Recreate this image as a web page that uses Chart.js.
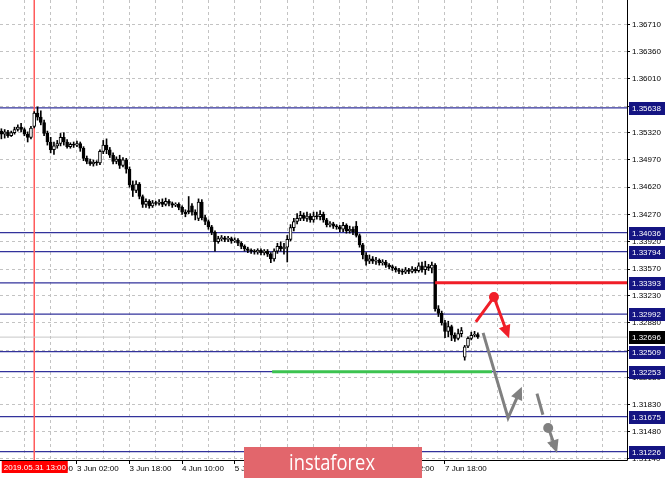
<!DOCTYPE html>
<html>
<head>
<meta charset="utf-8">
<script src="https://cdn.jsdelivr.net/npm/chart.js@4.4.0/dist/chart.umd.min.js"></script>
<style>
body { margin: 0; background: #fff; }
#wrap { width: 665px; height: 478px; position: relative; }
</style>
</head>
<body>
<div id="wrap"><canvas id="myChart"></canvas></div>
<script>
// H1 bars, hour counted from 3 Jun 00:00 (weekend skipped)
const hours = [-21,-20,-19,-18,-17,-16,-15,-14,-13,-12,-11,-10,-9,-8,-7,-6,-5,-4,-3,-2,-1,
  0,1,2,3,4,5,6,7,8,9,10,11,12,13,14,15,16,17,18,19,20,21,22,23,24,25,26,27,28,29,30,
  31,32,33,34,35,36,37,38,39,40,41,42,43,44,45,46,47,48,49,50,51,52,53,54,55,56,57,58,59,60,
  61,62,63,64,65,66,67,68,69,70,71,72,73,74,75,76,77,78,79,80,81,82,83,84,85,86,87,88,89,90,
  91,92,93,94,95,96,97,98,99,100,101,102,103,104,105,106,107,108,109,110,111,112,113,114,115,
  116,117,118,119,120,121,122,123,124];

const opens = [1.3534,1.3530,1.3533,1.3528,1.3532,1.3536,1.3539,1.3536,1.3530,1.3526,1.3540,1.3557,1.3552,1.3545,1.3531,1.3520,1.3510,1.3515,1.3518,1.3526,1.3520,
  1.3514,1.3517,1.3516,1.3518,1.3512,1.3499,1.3495,1.3492,1.3494,1.3493,1.3508,1.3516,1.3510,1.3503,1.3495,1.3498,1.3490,1.3497,1.3485,1.3465,1.3458,1.3466,1.3450,1.3440,1.3444,1.3438,1.3442,1.3441,1.3443,1.3440,1.3444,
  1.3441,1.3439,1.3440,1.3436,1.3430,1.3432,1.3438,1.3430,1.3422,1.3443,1.3423,1.3418,1.3411,1.3404,1.3392,1.3396,1.3397,1.3395,1.3396,1.3393,1.3394,1.3390,1.3386,1.3383,1.3381,1.3380,1.3379,1.3381,1.3378,1.3380,
  1.3376,1.3370,1.3380,1.3386,1.3383,1.3385,1.3395,1.3410,1.3418,1.3422,1.3426,1.3422,1.3425,1.3420,1.3425,1.3424,1.3427,1.3420,1.3414,1.3415,1.3412,1.3411,1.3408,1.3413,1.3406,1.3408,1.3412,1.3400,1.3388,1.3375,
  1.3367,1.3370,1.3367,1.3368,1.3365,1.3366,1.3362,1.3360,1.3358,1.3356,1.3354,1.3353,1.3356,1.3354,1.3357,1.3355,1.3361,1.3356,1.3360,1.3358,1.3362,1.3306,1.3300,1.3288,1.3277,
  1.3283,1.3272,1.3268,1.3274,1.3244,1.3258,1.3268,1.3272,1.3273];
const highs = [1.3537,1.3536,1.3535,1.3534,1.3539,1.3542,1.3544,1.3538,1.3533,1.3540,1.3559,1.3565,1.3560,1.3548,1.3534,1.3526,1.3520,1.3522,1.3531,1.3532,1.3523,
  1.3519,1.3520,1.3521,1.3520,1.3514,1.3502,1.3498,1.3497,1.3496,1.3510,1.3522,1.3524,1.3513,1.3506,1.3501,1.3503,1.3500,1.3499,1.3488,1.3470,1.3470,1.3468,1.3452,1.3447,1.3446,1.3445,1.3444,1.3446,1.3447,1.3448,1.3446,
  1.3443,1.3442,1.3442,1.3438,1.3433,1.3450,1.3441,1.3433,1.3447,1.3446,1.3426,1.3420,1.3413,1.3406,1.3399,1.3400,1.3399,1.3399,1.3398,1.3397,1.3396,1.3392,1.3388,1.3385,1.3383,1.3382,1.3383,1.3383,1.3382,1.3382,
  1.3378,1.3383,1.3390,1.3392,1.3390,1.3400,1.3414,1.3422,1.3428,1.3431,1.3429,1.3430,1.3428,1.3430,1.3430,1.3432,1.3430,1.3422,1.3418,1.3417,1.3414,1.3413,1.3417,1.3415,1.3412,1.3411,1.3418,1.3402,1.3390,1.3378,
  1.3375,1.3373,1.3372,1.3370,1.3369,1.3368,1.3364,1.3362,1.3360,1.3358,1.3357,1.3359,1.3358,1.3360,1.3359,1.3365,1.3366,1.3367,1.3363,1.3366,1.3364,1.3310,1.3303,1.3291,1.3290,
  1.3285,1.3275,1.3280,1.3282,1.3259,1.3270,1.3276,1.3277,1.3275];
const lows = [1.3524,1.3525,1.3526,1.3527,1.3530,1.3534,1.3533,1.3528,1.3520,1.3524,1.3538,1.3548,1.3542,1.3528,1.3516,1.3506,1.3504,1.3512,1.3515,1.3516,1.3512,
  1.3512,1.3513,1.3514,1.3508,1.3496,1.3492,1.3490,1.3489,1.3490,1.3491,1.3505,1.3505,1.3500,1.3492,1.3492,1.3486,1.3488,1.3480,1.3462,1.3450,1.3455,1.3447,1.3436,1.3436,1.3435,1.3436,1.3439,1.3439,1.3437,1.3438,1.3438,
  1.3436,1.3437,1.3433,1.3427,1.3424,1.3428,1.3426,1.3420,1.3419,1.3420,1.3414,1.3408,1.3401,1.3380,1.3390,1.3393,1.3392,1.3392,1.3390,1.3391,1.3387,1.3383,1.3380,1.3378,1.3377,1.3376,1.3376,1.3375,1.3375,1.3373,
  1.3365,1.3367,1.3377,1.3380,1.3376,1.3366,1.3393,1.3406,1.3415,1.3419,1.3419,1.3418,1.3417,1.3417,1.3421,1.3420,1.3417,1.3411,1.3411,1.3409,1.3408,1.3405,1.3405,1.3403,1.3403,1.3401,1.3398,1.3385,1.3370,1.3362,
  1.3364,1.3364,1.3363,1.3362,1.3362,1.3359,1.3357,1.3355,1.3353,1.3351,1.3350,1.3351,1.3351,1.3352,1.3352,1.3353,1.3353,1.3350,1.3355,1.3352,1.3303,1.3296,1.3285,1.3269,1.3270,
  1.3265,1.3264,1.3266,1.3270,1.3240,1.3256,1.3266,1.3270,1.3268];
const closes = [1.3530,1.3533,1.3528,1.3532,1.3536,1.3539,1.3536,1.3530,1.3526,1.3538,1.3557,1.3552,1.3545,1.3531,1.3520,1.3510,1.3515,1.3518,1.3526,1.3520,1.3514,
  1.3517,1.3516,1.3518,1.3512,1.3499,1.3495,1.3492,1.3494,1.3493,1.3508,1.3516,1.3510,1.3503,1.3495,1.3498,1.3490,1.3497,1.3485,1.3465,1.3458,1.3466,1.3450,1.3440,1.3444,1.3438,1.3442,1.3441,1.3443,1.3440,1.3444,1.3441,
  1.3439,1.3440,1.3436,1.3430,1.3428,1.3430,1.3430,1.3426,1.3443,1.3423,1.3418,1.3411,1.3404,1.3392,1.3396,1.3397,1.3395,1.3396,1.3393,1.3394,1.3390,1.3386,1.3383,1.3381,1.3380,1.3379,1.3381,1.3378,1.3380,1.3376,
  1.3370,1.3380,1.3386,1.3383,1.3385,1.3395,1.3410,1.3418,1.3422,1.3426,1.3422,1.3425,1.3420,1.3425,1.3424,1.3427,1.3420,1.3414,1.3415,1.3412,1.3411,1.3408,1.3413,1.3406,1.3408,1.3405,1.3400,1.3388,1.3375,1.3367,
  1.3370,1.3367,1.3368,1.3365,1.3366,1.3362,1.3360,1.3358,1.3356,1.3354,1.3353,1.3356,1.3354,1.3357,1.3355,1.3361,1.3356,1.3360,1.3358,1.3362,1.3306,1.3300,1.3288,1.3277,1.3283,
  1.3272,1.3268,1.3274,1.3278,1.3257,1.3268,1.3272,1.3273,1.3270];

// horizontal levels with their price boxes
const levels = [1.35638, 1.34036, 1.33794, 1.33393, 1.32992, 1.32509, 1.32253, 1.31675, 1.31226];
const lastPrice = 1.32696;

// axes
const yTicks = [1.36710,1.36360,1.36010,1.35660,1.35320,1.34970,1.34620,1.34270,1.33920,1.33570,1.33230,1.32880,1.32530,1.32180,1.31830,1.31480,1.31140];
const xGridHours = [-14,-6,2,10,18,26,34,42,50,58,66,74,82,90,98,106,114,122,130,138,146,154,162];
const xLabelHours = [-14, 2, 18, 34, 50, 66, 82, 98, 114];
const xLabels = ['31 May 10:00','3 Jun 02:00','3 Jun 18:00','4 Jun 10:00','5 Jun 02:00','5 Jun 18:00','6 Jun 10:00','7 Jun 02:00','7 Jun 18:00'];
const xMin = -21.42, xMax = 169.39;
const yMin = 1.31119, yMax = 1.37022;

// vertical marker
const markerHour = -11;
const markerLabel = '2019.05.31 13:00';

// forecast drawings (hour, price)
const redLine = [[111, 1.33393], [xMax, 1.33393]];
const greenLine = [[61.4, 1.32253], [128.3, 1.32253]];
const redArrow = [[123.4, 1.3289], [128.9, 1.3321], [133.5, 1.3268]];
const redDot = [128.9, 1.3321];
const greyArrow = [[125.6, 1.3275], [133.2, 1.3166], [137.4, 1.3206]];
const greyDash = [[142.0, 1.3197], [143.8, 1.3170]];
const greyDot = [145.4, 1.3153];
const greyTail = [[145.9, 1.3148], [148.1, 1.3121]];

const NAVY = 'rgb(50,50,155)';
const FONT = 'Liberation Sans';

const levelSets = levels.map(v => ({
    type: 'line', order: 5,
    data: [{x: xMin, y: v}, {x: xMax, y: v}],
    borderColor: NAVY, borderWidth: 1.2, pointRadius: 0
}));

const wicks = hours.map((h, i) => ({x: h, y: [lows[i], highs[i]]}));
const bodies = hours.map((h, i) => ({x: h, y: [opens[i], closes[i]]}));

// draws arrows, dots, price boxes and the logo on top
const overlay = {
    id: 'overlay',
    afterDraw(chart) {
        const ctx = chart.ctx;
        const xs = chart.scales.x, ys = chart.scales.y;
        const area = chart.chartArea;
        const P = (p) => [xs.getPixelForValue(p[0]), ys.getPixelForValue(p[1])];

        // axis lines
        ctx.save();
        ctx.strokeStyle = '#000';
        ctx.lineWidth = 1;
        ctx.beginPath();
        ctx.moveTo(0, area.bottom + 0.5); ctx.lineTo(area.right + 0.5, area.bottom + 0.5);
        ctx.moveTo(area.right + 0.5, 0); ctx.lineTo(area.right + 0.5, area.bottom + 0.5);
        ctx.stroke();

        const arrow = (pts, color) => {
            const px = pts.map(P);
            const n = px.length;
            const [x1, y1] = px[n - 2], [x2, y2] = px[n - 1];
            const a = Math.atan2(y2 - y1, x2 - x1);
            const len = 13, half = 6;
            ctx.strokeStyle = color; ctx.fillStyle = color;
            ctx.lineWidth = 3; ctx.lineJoin = 'miter';
            ctx.beginPath();
            ctx.moveTo(px[0][0], px[0][1]);
            for (let i = 1; i < n - 1; i++) ctx.lineTo(px[i][0], px[i][1]);
            ctx.lineTo(x2 - Math.cos(a) * len * 0.8, y2 - Math.sin(a) * len * 0.8);
            ctx.stroke();
            ctx.beginPath();
            ctx.moveTo(x2, y2);
            ctx.lineTo(x2 - Math.cos(a) * len - Math.sin(a) * half, y2 - Math.sin(a) * len + Math.cos(a) * half);
            ctx.lineTo(x2 - Math.cos(a) * len + Math.sin(a) * half, y2 - Math.sin(a) * len - Math.cos(a) * half);
            ctx.closePath();
            ctx.fill();
        };
        const dot = (p, color) => {
            const [x, y] = P(p);
            ctx.fillStyle = color;
            ctx.beginPath(); ctx.arc(x, y, 5, 0, Math.PI * 2); ctx.fill();
        };

        arrow(redArrow, 'rgb(240,30,40)');
        dot(redDot, 'rgb(240,30,40)');
        arrow(greyArrow, 'rgb(128,128,128)');
        ctx.strokeStyle = 'rgb(128,128,128)'; ctx.lineWidth = 3;
        const d0 = P(greyDash[0]), d1 = P(greyDash[1]);
        ctx.beginPath(); ctx.moveTo(d0[0], d0[1]); ctx.lineTo(d1[0], d1[1]); ctx.stroke();
        dot(greyDot, 'rgb(128,128,128)');
        arrow(greyTail, 'rgb(128,128,128)');

        // price boxes on the right axis
        ctx.font = '8px "' + FONT + '"';
        ctx.textBaseline = 'middle';
        ctx.textAlign = 'left';
        const box = (v, bg) => {
            const y = Math.round(ys.getPixelForValue(v));
            ctx.fillStyle = bg;
            ctx.fillRect(area.right + 2, y - 6, chart.width - area.right - 2, 13);
            ctx.fillStyle = '#fff';
            ctx.fillText(v.toFixed(5), area.right + 5, y + 0.5);
        };
        levels.forEach(v => box(v, 'rgb(20,20,130)'));
        box(lastPrice, '#000');

        // marker time label
        const mx = xs.getPixelForValue(markerHour);
        ctx.fillStyle = 'rgb(255,0,0)';
        ctx.fillRect(mx - 32.5, area.bottom + 1, 66, 12);
        ctx.fillStyle = '#fff';
        ctx.fillText(markerLabel, mx - 30.5, area.bottom + 7.5);

        // logo
        ctx.fillStyle = 'rgb(226,102,108)';
        ctx.fillRect(244, 447, 178, 31);
        ctx.fillStyle = '#fff';
        ctx.textAlign = 'center';
        ctx.textBaseline = 'alphabetic';
        ctx.font = '22px "Open Sans"';
        ctx.fillText('instaforex', 332, 470, 86);
        ctx.restore();
    }
};

const ctx = document.getElementById('myChart').getContext('2d');
const chart = new Chart(ctx, {
    type: 'bar',
    data: {
        datasets: [
            ...levelSets,
            {
                type: 'line', order: 4,
                data: [{x: xMin, y: lastPrice}, {x: xMax, y: lastPrice}],
                borderColor: 'rgb(200,200,200)', borderWidth: 1, pointRadius: 0
            },
            {
                type: 'line', order: 4,
                data: [{x: markerHour, y: yMin}, {x: markerHour, y: yMax}],
                borderColor: 'rgb(255,90,90)', borderWidth: 1.5, pointRadius: 0
            },
            {
                data: wicks, order: 3, grouped: false,
                backgroundColor: '#000', barThickness: 1, borderWidth: 0
            },
            {
                data: bodies, order: 2, grouped: false,
                backgroundColor: opens.map((o, i) => closes[i] >= o ? '#fff' : '#000'),
                borderColor: '#000', borderWidth: 1, borderSkipped: false,
                barThickness: 3, minBarLength: 1
            },
            {
                type: 'line', order: 1,
                data: redLine.map(p => ({x: p[0], y: p[1]})),
                borderColor: 'rgb(240,30,40)', borderWidth: 3, pointRadius: 0
            },
            {
                type: 'line', order: 1,
                data: greenLine.map(p => ({x: p[0], y: p[1]})),
                borderColor: 'rgb(60,195,80)', borderWidth: 3, pointRadius: 0
            }
        ]
    },
    options: {
        responsive: true,
        maintainAspectRatio: false,
        animation: false,
        layout: {padding: 0},
        plugins: {legend: {display: false}, tooltip: {enabled: false}},
        scales: {
            x: {
                type: 'linear', min: xMin, max: xMax, offset: false,
                afterBuildTicks: (s) => { s.ticks = xGridHours.map(v => ({value: v})); },
                afterFit: (s) => { s.height = 18; s.paddingLeft = 0; s.paddingRight = 0; },
                grid: {
                    offset: false, color: 'rgb(195,195,195)', lineWidth: 1,
                    tickLength: 4,
                    tickColor: (c) => xLabelHours.includes(c.tick && c.tick.value) ? '#000' : 'rgba(0,0,0,0)'
                },
                border: {display: false, dash: [3, 3]},
                ticks: {
                    autoSkip: false, maxRotation: 0, minRotation: 0, align: 'start', padding: 0,
                    color: '#000', font: {family: FONT, size: 8},
                    callback: (v) => { const k = xLabelHours.indexOf(v); return k >= 0 ? xLabels[k] : ''; }
                }
            },
            y: {
                type: 'linear', position: 'right', min: yMin, max: yMax,
                afterBuildTicks: (s) => { s.ticks = yTicks.map(v => ({value: v})); },
                afterFit: (s) => { s.width = 38; s.paddingTop = 0; s.paddingBottom = 0; },
                grid: {color: 'rgb(195,195,195)', lineWidth: 1, tickLength: 3, tickColor: '#000'},
                border: {display: false, dash: [3, 3]},
                ticks: {
                    autoSkip: false, padding: 2, color: '#000', font: {family: FONT, size: 8},
                    callback: (v) => v.toFixed(5)
                }
            }
        }
    },
    plugins: [overlay]
});
</script>
</body>
</html>
